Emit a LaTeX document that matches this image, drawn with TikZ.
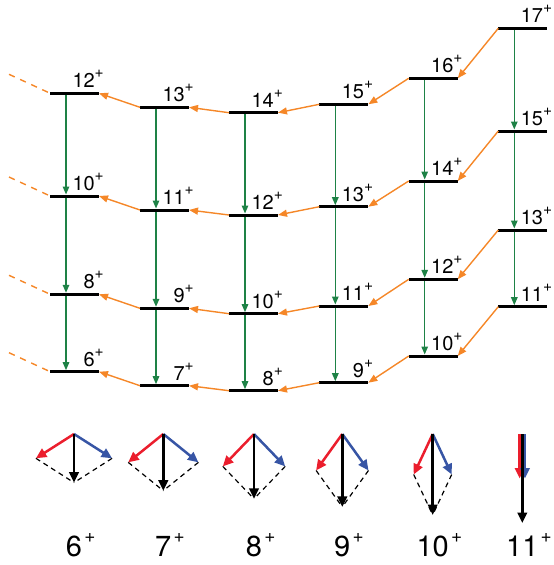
\documentclass[tikz,border=0pt]{standalone}
\usepackage{fontspec}
\setmainfont{TeX Gyre Heros}
\usetikzlibrary{arrows.meta,calc}
\definecolor{ggreen}{RGB}{30,130,70}
\definecolor{oorange}{RGB}{245,135,40}
\definecolor{vred}{RGB}{235,30,45}
\definecolor{vblue}{RGB}{55,85,165}

\newcommand\topJ[1]{#1\raisebox{10.2pt}{\fontsize{15.5}{15.5}\selectfont +}}
\newcommand\botJ[1]{#1\rlap{\kern2.2pt\raisebox{14.4pt}{\fontsize{19}{19}\selectfont +}}}

\newcommand\lvl[4]{%
  \node[bar] (#1) at ({#2+24.5},{#3}) {};
  \node[toplab] (#1l) at ({#2+54},{#3-5.5}) {\topJ{#4}};
}

\newcommand\vecs[4]{% name, x, J, horizontal
  \coordinate (t#1) at ({#2},434);
  \coordinate (r#1) at ({#2-#4},{434+4.05*#3});
  \coordinate (b#1) at ({#2+#4},{434+4.05*#3});
  \coordinate (k#1) at ({#2},{434+8.1*#3});
  \draw[vdash] (r#1) -- (k#1);
  \draw[vdash] (b#1) -- (k#1);
  \draw[vec, vred] (t#1) -- (r#1);
  \draw[vec, vblue] (t#1) -- (b#1);
  \draw[vec, black] (t#1) -- (k#1);
  \node[botlab] (l#1) at ({#2},556.7) {\botJ{#3}};
}

\begin{document}
\begin{tikzpicture}[x=1pt,y=-1pt,
  bar/.style={fill=black, draw=none, minimum width=49pt, minimum height=3pt, inner sep=0pt, outer sep=0pt},
  toplab/.style={anchor=base east, inner sep=0pt, font=\fontsize{20}{20}\selectfont},
  botlab/.style={anchor=base, inner sep=0pt, font=\fontsize{29}{29}\selectfont},
  grn/.style={draw=ggreen, line width=1.35pt, -{Triangle[length=8pt,width=6.5pt]}},
  orn/.style={draw=oorange, line width=1.4pt, -{Triangle[length=9pt,width=7pt]}},
  odash/.style={draw=oorange, line width=1.4pt, dash pattern=on 6.3pt off 5.9pt},
  vec/.style={line width=2.5pt, -{Triangle[length=10.5pt,width=9.5pt]}},
  vdash/.style={draw=black, line width=1.2pt, dash pattern=on 5pt off 4pt}
]
\useasboundingbox (0,0) rectangle (554,565);

% levels
\lvl{a12}{50}{93.3}{12}
\lvl{a10}{50}{196}{10}
\lvl{a8}{50}{294.3}{8}
\lvl{a6}{50}{371.7}{6}
\lvl{b13}{140}{107.3}{13}
\lvl{b11}{140}{210}{11}
\lvl{b9}{140}{308.3}{9}
\lvl{b7}{140}{385.7}{7}
\lvl{c14}{229}{112.7}{14}
\lvl{c12}{229}{215}{12}
\lvl{c10}{229}{313.7}{10}
\lvl{c8}{229}{390.7}{8}
\lvl{d15}{319.3}{104.3}{15}
\lvl{d13}{319.3}{206.7}{13}
\lvl{d11}{319.3}{306}{11}
\lvl{d9}{319.3}{382.7}{9}
\lvl{e16}{408.7}{78.3}{16}
\lvl{e14}{408.7}{181}{14}
\lvl{e12}{408.7}{279.3}{12}
\lvl{e10}{408.7}{356}{10}
\lvl{f17}{498.3}{28.3}{17}
\lvl{f15}{498.3}{131}{15}
\lvl{f13}{498.3}{230}{13}
\lvl{f11}{498.3}{306.7}{11}

% E2 (green) transitions
\foreach \u/\v in {a12/a10,a10/a8,a8/a6,b13/b11,b11/b9,b9/b7,c14/c12,c12/c10,c10/c8,
  d15/d13,d13/d11,d11/d9,e16/e14,e14/e12,e12/e10,f17/f15,f15/f13,f13/f11}
  \draw[grn] ($(\u.south west)+(16,0)$) -- ($(\v.north west)+(16,0)$);

% M1 (orange) transitions
\foreach \u/\v in {b13/a12,c14/b13,d15/c14,e16/d15,f17/e16,
  b11/a10,c12/b11,d13/c12,e14/d13,f15/e14,
  b9/a8,c10/b9,d11/c10,e12/d11,f13/e12,
  b7/a6,c8/b7,d9/c8,e10/d9,f11/e10}
  \draw[orn] (\u.west) -- (\v.east);

% dashed continuations
\foreach \u in {a12,a10,a8,a6}
  \draw[odash] ($(\u.west)+(-41,-19)$) -- ($(\u.west)+(-2,-1)$);

% angular momentum coupling vectors
\vecs{6}{74}{6}{38.1}
\vecs{7}{163.3}{7}{35.1}
\vecs{8}{254}{8}{31.2}
\vecs{9}{342.3}{9}{26.2}
\vecs{10}{432.7}{10}{19.0}

% 11+ : fully aligned
\coordinate (t11) at (522.3,434);
\coordinate (tr11) at (519.7,434);
\coordinate (tb11) at (524.9,434);
\coordinate (r11) at (519.7,478.5);
\coordinate (b11v) at (524.9,478.5);
\coordinate (k11) at (522.3,523);
\draw[vec, vred] (tr11) -- (r11);
\draw[vec, vblue] (tb11) -- (b11v);
\draw[vec, black] (t11) -- (k11);
\node[botlab] (l11) at (522.3,556.7) {\botJ{11}};
\end{tikzpicture}
\end{document}
